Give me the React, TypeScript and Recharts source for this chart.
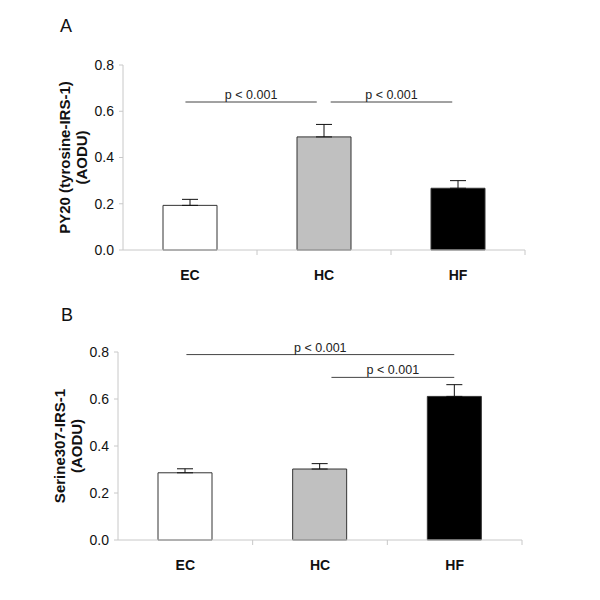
import React from 'react';
import { BarChart, Bar, XAxis, YAxis, ErrorBar, Cell, ReferenceLine, ReferenceDot } from 'recharts';

const categories = ['EC', 'HC', 'HF'];
const fills = ['#ffffff', '#c0c0c0', '#000000'];
const yTicks = [0, 0.2, 0.4, 0.6, 0.8];

const meanA = [0.193, 0.489, 0.267];
const semA = [0.026, 0.054, 0.033];
const meanB = [0.286, 0.302, 0.611];
const semB = [0.017, 0.023, 0.05];

// significance brackets: [xStart, xEnd, y] on a 0..3 category-position scale
const sigA = [
  { x1: 0.466, x2: 1.446, y: 0.64, text: 'p < 0.001' },
  { x1: 1.55, x2: 2.457, y: 0.64, text: 'p < 0.001' },
];
const sigB = [
  { x1: 0.508, x2: 2.497, y: 0.789, text: 'p < 0.001' },
  { x1: 1.585, x2: 2.497, y: 0.692, text: 'p < 0.001' },
];

const buildRows = (mean: number[], sem: number[]) =>
  categories.map((c, i) => ({ name: c, value: mean[i], err: [0, sem[i]] }));

const FONT = 'Liberation Sans, Arial, sans-serif';
const AXIS_GRAY = '#c8c8c8';
const TICK_SIZE = 5;
const TICK_MARGIN = 12;

const CatTick = (props: any) => {
  const { x, y, payload, width, visibleTicksCount } = props;
  const off = payload && payload.offset != null ? payload.offset : width / (2 * visibleTicksCount);
  const axisY = y - TICK_SIZE - TICK_MARGIN;
  return (
    <g>
      <line x1={x + off} x2={x + off} y1={axisY} y2={axisY + TICK_SIZE} stroke={AXIS_GRAY} />
      <text x={x} y={axisY + 25} dy="0.35em" textAnchor="middle" fontFamily={FONT} fontWeight="bold" fontSize={14} fill="#111">
        {payload.value}
      </text>
    </g>
  );
};

const yLabel = (line1: string, line2: string) => (props: any) => {
  const vb = props.viewBox || {};
  const cy = vb.y + vb.height / 2;
  const x1 = vb.x + 1;
  const x2 = vb.x + 18;
  return (
    <g fontFamily={FONT} fontWeight="bold" fontSize={15} fill="#111">
      <text x={x1} y={cy} textAnchor="middle" dominantBaseline="central" transform={`rotate(-90 ${x1} ${cy})`}>{line1}</text>
      <text x={x2} y={cy} textAnchor="middle" dominantBaseline="central" transform={`rotate(-90 ${x2} ${cy})`}>{line2}</text>
    </g>
  );
};

type PanelProps = {
  rows: any[];
  sig: { x1: number; x2: number; y: number; text: string }[];
  height: number;
  margin: { top: number; right: number; bottom: number; left: number };
  label1: string;
  label2: string;
};

const Panel = ({ rows, sig, height, margin, label1, label2 }: PanelProps) => (
  <BarChart width={600} height={height} data={rows} margin={margin} barSize={54}>
    <XAxis
      dataKey="name"
      height={40}
      stroke={AXIS_GRAY}
      tickLine={false}
      tickSize={TICK_SIZE}
      tickMargin={TICK_MARGIN}
      tick={<CatTick />}
      interval={0}
    />
    <XAxis xAxisId="ann" type="number" domain={[0, 3]} allowDataOverflow dataKey="pos" hide />
    <YAxis
      width={60}
      domain={[0, 0.8]}
      ticks={yTicks}
      tickFormatter={(v: number) => v.toFixed(1)}
      stroke={AXIS_GRAY}
      tickSize={4}
      tickMargin={5}
      tick={{ fill: '#111', fontSize: 14, fontFamily: FONT }}
      label={{ content: yLabel(label1, label2) }}
    />
    <Bar dataKey="value" stroke="#333" strokeWidth={1} isAnimationActive={false}>
      {rows.map((r, i) => (
        <Cell key={r.name} fill={fills[i]} />
      ))}
      <ErrorBar dataKey="err" width={8} stroke="#111" strokeWidth={1} direction="y" />
    </Bar>
    {sig.map((s, i) => (
      <ReferenceLine
        key={`l${i}`}
        xAxisId="ann"
        segment={[{ x: s.x1, y: s.y }, { x: s.x2, y: s.y }]}
        stroke="#444"
        strokeWidth={1}
        ifOverflow="visible"
      />
    ))}
    {sig.map((s, i) => (
      <ReferenceDot
        key={`d${i}`}
        xAxisId="ann"
        x={(s.x1 + s.x2) / 2}
        y={s.y}
        r={0.01}
        fill="none"
        stroke="none"
        ifOverflow="visible"
        label={{ value: s.text, position: 'top', offset: 3, fontSize: 12.5, fill: '#222', fontFamily: FONT }}
      />
    ))}
  </BarChart>
);

export default function App() {
  const rowsA = buildRows(meanA, semA);
  const rowsB = buildRows(meanB, semB);
  return (
    <div style={{ position: 'absolute', left: 0, top: 0, width: 600, height: 600, background: '#fff' }}>
      <svg width={600} height={600} style={{ position: 'absolute', left: 0, top: 0 }}>
        <text x={60} y={32} fontFamily={FONT} fontSize={18} fill="#111">A</text>
        <text x={61} y={321} fontFamily={FONT} fontSize={18} fill="#111">B</text>
      </svg>
      <div style={{ position: 'absolute', left: 0, top: 0 }}>
        <Panel
          rows={rowsA}
          sig={sigA}
          height={300}
          margin={{ top: 65, right: 75, bottom: 10, left: 63 }}
          label1="PY20 (tyrosine-IRS-1)"
          label2="(AODU)"
        />
      </div>
      <div style={{ position: 'absolute', left: 0, top: 290 }}>
        <Panel
          rows={rowsB}
          sig={sigB}
          height={310}
          margin={{ top: 62, right: 78, bottom: 20, left: 58 }}
          label1="Serine307-IRS-1"
          label2="(AODU)"
        />
      </div>
    </div>
  );
}
